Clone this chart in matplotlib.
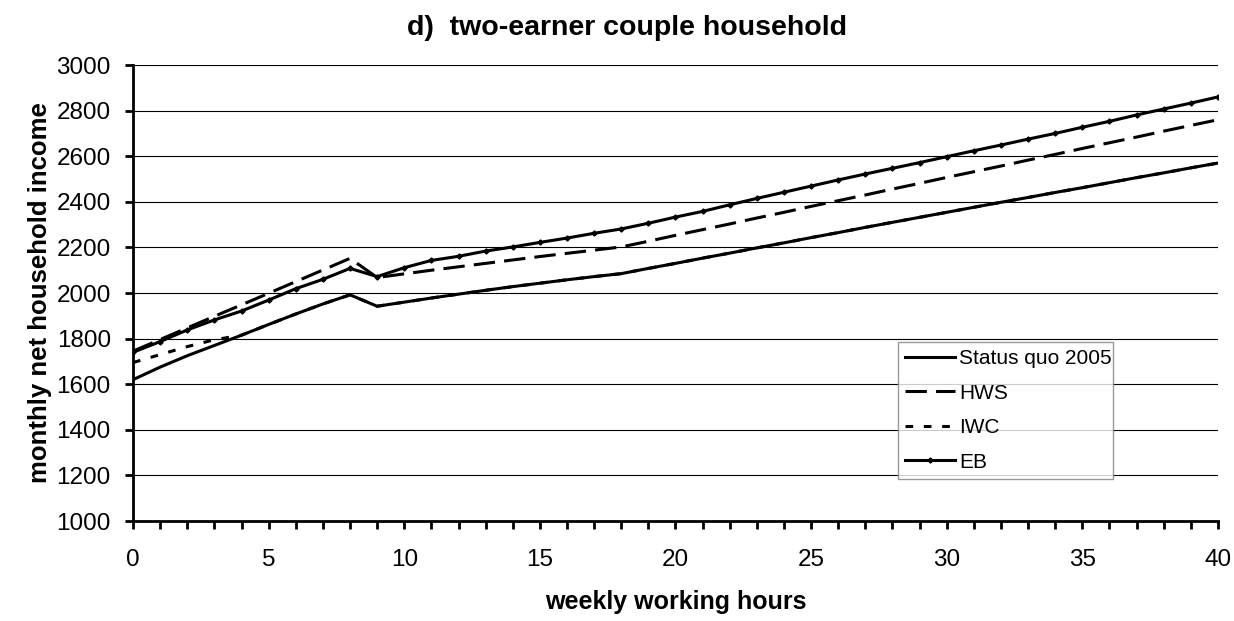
import matplotlib
matplotlib.use("Agg")
import matplotlib.pyplot as plt
from matplotlib.ticker import MultipleLocator

plt.rcParams['font.family'] = ['Liberation Sans', 'DejaVu Sans']

# weekly working hours 0..40
hours = list(range(0, 41))

status_quo = [1620, 1675, 1725, 1770, 1815, 1862, 1908, 1952, 1992, 1942,
              1960, 1978, 1995, 2012, 2028, 2043, 2058, 2072, 2085, 2108,
              2130, 2153, 2175, 2198, 2220, 2243, 2265, 2288, 2310, 2332,
              2354, 2376, 2398, 2419, 2441, 2462, 2484, 2506, 2527, 2549,
              2570]

hws = [1745, 1796, 1847, 1898, 1948, 1999, 2050, 2101, 2152, 2068,
       2084, 2100, 2115, 2130, 2145, 2160, 2174, 2188, 2202, 2227,
       2253, 2278, 2303, 2329, 2354, 2380, 2405, 2430, 2456, 2481,
       2507, 2532, 2557, 2583, 2608, 2634, 2659, 2684, 2710, 2735,
       2760]

iwc = [1695, 1730, 1765, 1795, 1815, 1862, 1908, 1952, 1992, 1942,
       1960, 1978, 1995, 2012, 2028, 2043, 2058, 2072, 2085, 2108,
       2130, 2153, 2175, 2198, 2220, 2243, 2265, 2288, 2310, 2332,
       2354, 2376, 2398, 2419, 2441, 2462, 2484, 2506, 2527, 2549,
       2570]

eb = [1740, 1787, 1838, 1882, 1921, 1969, 2019, 2060, 2108, 2072,
      2111, 2143, 2161, 2184, 2202, 2222, 2241, 2262, 2281, 2306,
      2333, 2358, 2387, 2415, 2442, 2469, 2496, 2522, 2547, 2572,
      2598, 2624, 2649, 2675, 2700, 2727, 2753, 2781, 2807, 2833,
      2860]

fig = plt.figure(figsize=(12.34, 6.21), dpi=100)
ax = fig.add_axes([0.1078, 0.161, 0.8792, 0.7343])

lw = 2.2
ax.plot(hours, status_quo, color='black', lw=lw, label='Status quo 2005', zorder=3)
ax.plot(hours, hws, color='black', lw=lw, dashes=(7, 3), label='HWS', zorder=3)
ax.plot(hours, iwc, color='black', lw=lw, dashes=(2.5, 3.5), label='IWC', zorder=3)
ax.plot(hours, eb, color='black', lw=lw, marker='D', markersize=2.6, label='EB', zorder=4)

ax.set_xlim(0, 40)
ax.set_ylim(1000, 3000)
ax.xaxis.set_major_locator(MultipleLocator(5))
ax.xaxis.set_minor_locator(MultipleLocator(1))
ax.yaxis.set_major_locator(MultipleLocator(200))
ax.grid(axis='y', color='black', lw=0.8)
ax.set_axisbelow(True)

for s in ['top', 'right']:
    ax.spines[s].set_visible(False)
for s in ['left', 'bottom']:
    ax.spines[s].set_linewidth(2)
ax.tick_params(which='both', direction='out', width=2, length=6, labelsize=17.5, pad=10)
ax.tick_params(axis='x', which='major', pad=14)

# title is centred on the whole chart, not on the plot area
fig.text(0.508, 0.955, 'd)  two-earner couple household', fontsize=20.5,
         fontweight='bold', ha='center', va='center')
ax.set_xlabel('weekly working hours', fontsize=18, fontweight='bold', labelpad=14)
ax.set_ylabel('monthly net household income', fontsize=18.5, fontweight='bold', labelpad=3)

leg = ax.legend(loc='lower left', bbox_to_anchor=(0.705, 0.092, 0.198, 0.31), fontsize=15,
                frameon=True, fancybox=False, edgecolor='#808080', handlelength=2.4,
                handletextpad=0.2, labelspacing=0.75, borderpad=0.35, borderaxespad=0,
                mode='expand')
leg.get_frame().set_linewidth(1)

fig.savefig('out.png', dpi=100)
